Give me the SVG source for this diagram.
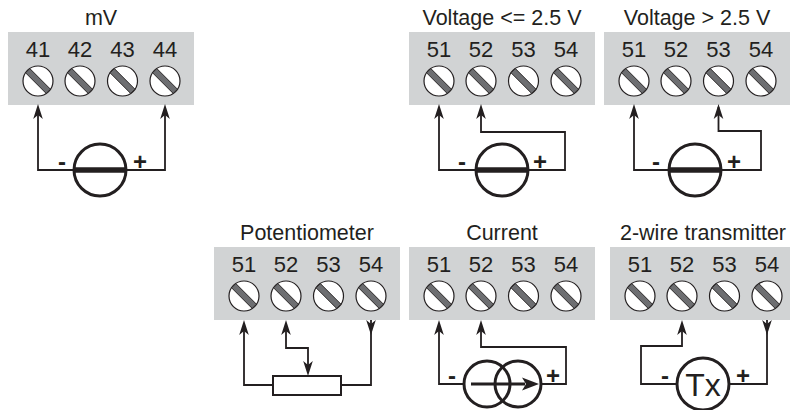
<svg xmlns="http://www.w3.org/2000/svg" width="790" height="410" viewBox="0 0 790 410">
<style>
.blk{fill:#d1d3d4}
.ttl{font-family:"Liberation Sans",Arial,sans-serif;font-size:21.5px;fill:#231f20;text-anchor:middle}
.num{font-family:"Liberation Sans",Arial,sans-serif;font-size:22px;fill:#231f20;text-anchor:middle}
.sgn{font-family:"Liberation Sans",Arial,sans-serif;font-size:24px;font-weight:bold;fill:#231f20;text-anchor:middle}
.w{fill:none;stroke:#231f20;stroke-width:1.8}
.src{fill:none;stroke:#231f20;stroke-width:3}
.bar{stroke:#231f20;stroke-width:5.5}
</style>
<defs>
<g id="screw">
<circle r="15" fill="#fff" stroke="#231f20" stroke-width="1.2"/>
<rect x="-14.6" y="-3" width="29.2" height="6" transform="rotate(45)" fill="#6d6e71" stroke="#231f20" stroke-width="0.9"/>
</g>
<marker id="ah" markerUnits="userSpaceOnUse" markerWidth="20" markerHeight="14" viewBox="-15 -7 20 14" refX="0" refY="0" orient="auto-start-reverse">
<path d="M3,0 L-12,-4.8 L-8,0 L-12,4.8 Z" fill="#231f20"/>
</marker>
<marker id="as" markerUnits="userSpaceOnUse" markerWidth="20" markerHeight="14" viewBox="-2 -7 20 14" refX="0" refY="0" orient="auto">
<path d="M15,0 L0,-4.8 L4,0 L0,4.8 Z" fill="#231f20"/>
</marker>
</defs>

<g id="block-mv">
<rect class="blk" x="8" y="32" width="186" height="73"/>
<text class="ttl" x="101" y="25">mV</text>
<text class="num" x="38" y="57">41</text><text class="num" x="80" y="57">42</text><text class="num" x="122.5" y="57">43</text><text class="num" x="165" y="57">44</text>
<use href="#screw" x="38" y="81"/><use href="#screw" x="80" y="81"/><use href="#screw" x="122.5" y="81"/><use href="#screw" x="165" y="81"/>
</g>

<g id="block-vlow">
<rect class="blk" x="409" y="32" width="186" height="73"/>
<text class="ttl" x="502" y="25">Voltage &lt;= 2.5 V</text>
<text class="num" x="439" y="57">51</text><text class="num" x="481" y="57">52</text><text class="num" x="523.5" y="57">53</text><text class="num" x="566" y="57">54</text>
<use href="#screw" x="439" y="81"/><use href="#screw" x="481" y="81"/><use href="#screw" x="523.5" y="81"/><use href="#screw" x="566" y="81"/>
</g>

<g id="block-vhigh">
<rect class="blk" x="604" y="32" width="186" height="73"/>
<text class="ttl" x="697" y="25">Voltage &gt; 2.5 V</text>
<text class="num" x="634" y="57">51</text><text class="num" x="676" y="57">52</text><text class="num" x="718.5" y="57">53</text><text class="num" x="761" y="57">54</text>
<use href="#screw" x="634" y="81"/><use href="#screw" x="676" y="81"/><use href="#screw" x="718.5" y="81"/><use href="#screw" x="761" y="81"/>
</g>

<g id="block-pot">
<rect class="blk" x="214" y="247" width="186" height="73"/>
<text class="ttl" x="307" y="240">Potentiometer</text>
<text class="num" x="244" y="272">51</text><text class="num" x="286" y="272">52</text><text class="num" x="328.5" y="272">53</text><text class="num" x="371" y="272">54</text>
<use href="#screw" x="244" y="296"/><use href="#screw" x="286" y="296"/><use href="#screw" x="328.5" y="296"/><use href="#screw" x="371" y="296"/>
</g>

<g id="block-current">
<rect class="blk" x="409" y="247" width="186" height="73"/>
<text class="ttl" x="502" y="240">Current</text>
<text class="num" x="439" y="272">51</text><text class="num" x="481" y="272">52</text><text class="num" x="523.5" y="272">53</text><text class="num" x="566" y="272">54</text>
<use href="#screw" x="439" y="296"/><use href="#screw" x="481" y="296"/><use href="#screw" x="523.5" y="296"/><use href="#screw" x="566" y="296"/>
</g>

<g id="block-tx">
<rect class="blk" x="610" y="247" width="180" height="73"/>
<text class="ttl" x="703" y="240">2-wire transmitter</text>
<text class="num" x="640" y="272">51</text><text class="num" x="682" y="272">52</text><text class="num" x="724.5" y="272">53</text><text class="num" x="767" y="272">54</text>
<use href="#screw" x="640" y="296"/><use href="#screw" x="682" y="296"/><use href="#screw" x="724.5" y="296"/><use href="#screw" x="767" y="296"/>
</g>

<g id="src-mv">
<circle class="src" cx="100" cy="170" r="26"/>
<line class="bar" x1="74" y1="170" x2="126" y2="170"/>
<text class="sgn" x="62" y="170">-</text><text class="sgn" x="140" y="170">+</text>
</g>
<g id="src-vlow">
<circle class="src" cx="502" cy="170" r="26"/>
<line class="bar" x1="476" y1="170" x2="528" y2="170"/>
<text class="sgn" x="462" y="170">-</text><text class="sgn" x="540" y="170">+</text>
</g>
<g id="src-vhigh">
<circle class="src" cx="695" cy="170" r="26"/>
<line class="bar" x1="669" y1="170" x2="721" y2="170"/>
<text class="sgn" x="656" y="170">-</text><text class="sgn" x="734" y="170">+</text>
</g>
<g id="res-pot">
<rect x="273" y="376" width="68" height="19" fill="#fff" stroke="#231f20" stroke-width="2"/>
</g>
<g id="src-current">
<circle class="src" cx="487" cy="384" r="23"/>
<circle class="src" cx="518" cy="384" r="23"/>
<line class="src" x1="471" y1="384" x2="525" y2="384"/>
<path d="M539,384 L522,377.5 L526,384 L522,390.5 Z" fill="#231f20"/>
<text class="sgn" x="452" y="384">-</text><text class="sgn" x="553" y="384">+</text>
</g>
<g id="src-tx">
<circle class="src" cx="703" cy="384" r="26"/>
<text class="ttl" x="703" y="396" style="font-size:32px">Tx</text>
<text class="sgn" x="665" y="384">-</text><text class="sgn" x="743" y="384">+</text>
</g>

<g id="connectors">
<path class="w" d="M74,170 H38 V107" marker-end="url(#ah)"/>
<path class="w" d="M126,170 H165 V107" marker-end="url(#ah)"/>
<path class="w" d="M476,170 H439 V107" marker-end="url(#ah)"/>
<path class="w" d="M528,170 H565 V132 H481 V107" marker-end="url(#ah)"/>
<path class="w" d="M669,170 H634 V107" marker-end="url(#ah)"/>
<path class="w" d="M721,170 H761 V131 H718.5 V107" marker-end="url(#ah)"/>
<path class="w" d="M273,385 H244 V323" marker-end="url(#ah)"/>
<path class="w" d="M371,320 V385 H341" marker-start="url(#as)"/>
<path class="w" d="M286,323 V348 H308 V373" marker-start="url(#ah)" marker-end="url(#ah)"/>
<path class="w" d="M464,384 H439 V323" marker-end="url(#ah)"/>
<path class="w" d="M541,384 H566 V347 H481 V323" marker-end="url(#ah)"/>
<path class="w" d="M677,384 H641 V346 H682 V323" marker-end="url(#ah)"/>
<path class="w" d="M767,320 V384 H729" marker-start="url(#as)"/>
</g>
</svg>
